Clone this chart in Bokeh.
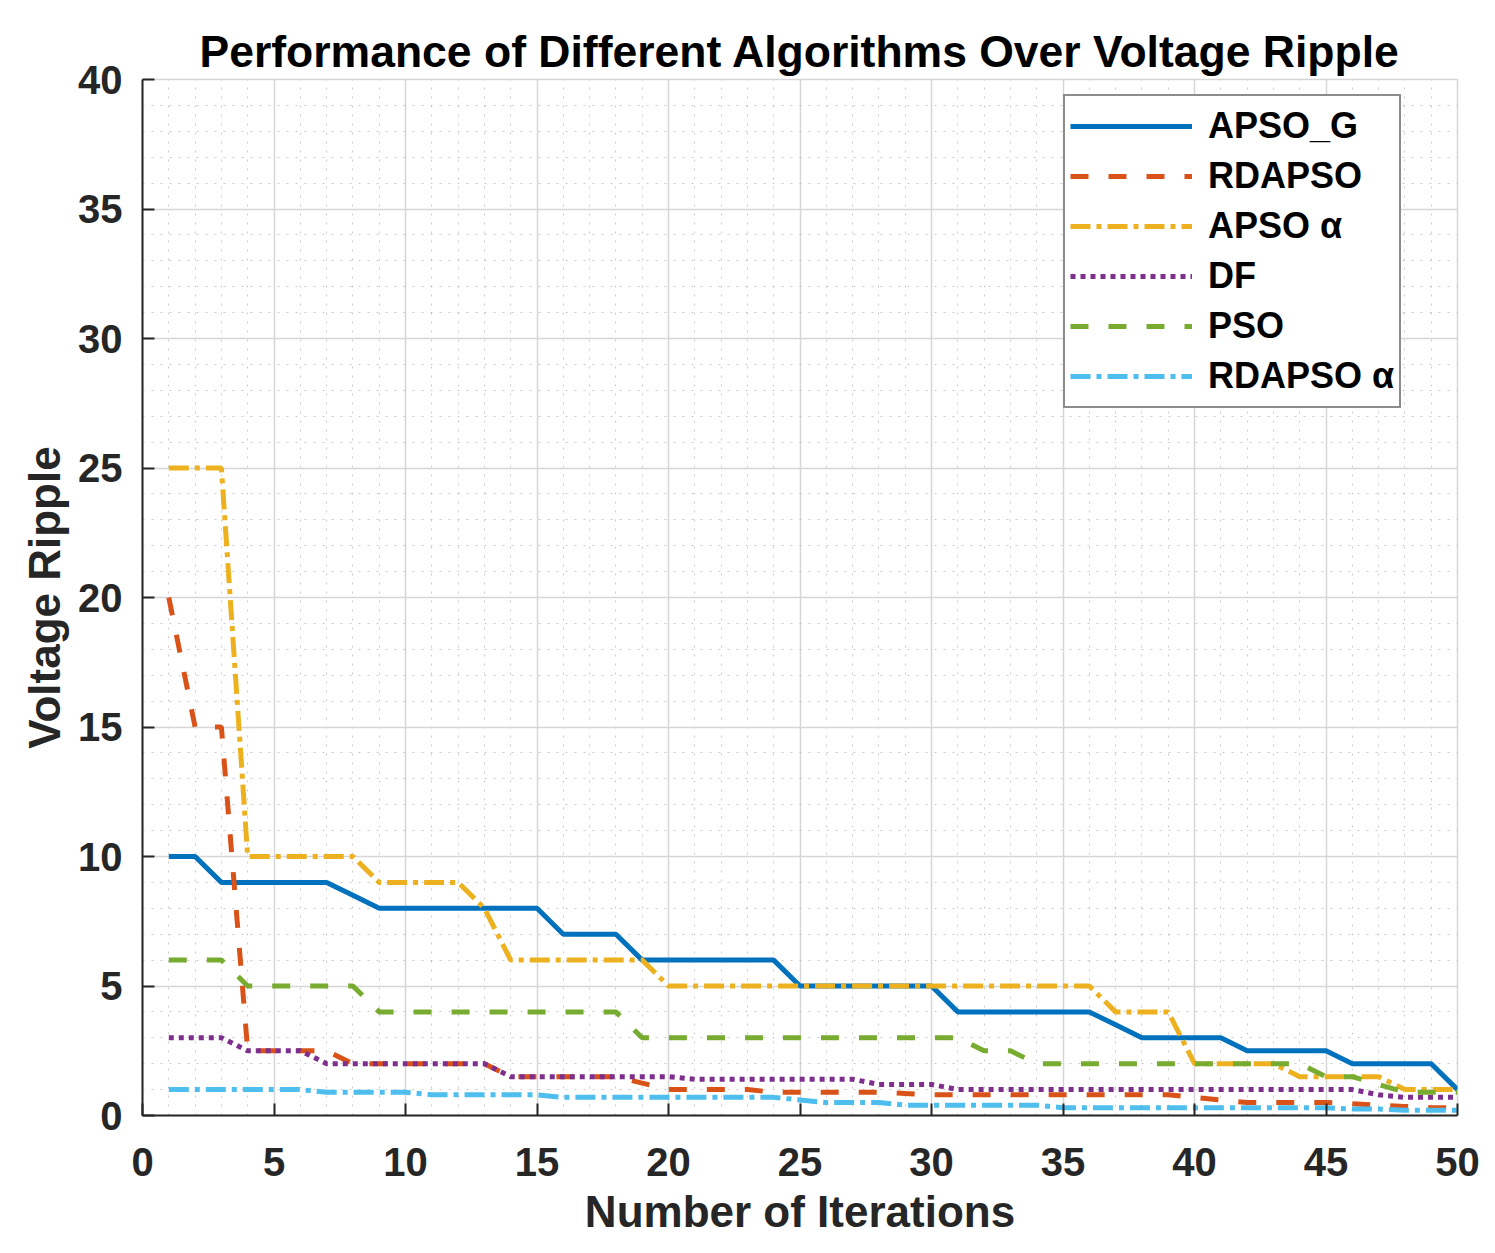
from bokeh.plotting import figure
from bokeh.models import Range1d, SingleIntervalTicker, Legend, LegendItem
from bokeh.embed import file_html
from bokeh.resources import INLINE

# iterations 1..50
iterations = list(range(1, 51))

apso_g = [10, 10, 9, 9, 9, 9, 9, 8.5, 8, 8,
          8, 8, 8, 8, 8, 7, 7, 7, 6, 6,
          6, 6, 6, 6, 5, 5, 5, 5, 5, 5,
          4, 4, 4, 4, 4, 4, 3.5, 3, 3, 3,
          3, 2.5, 2.5, 2.5, 2.5, 2, 2, 2, 2, 1]

rdapso = [20, 15, 15, 2.5, 2.5, 2.5, 2.5, 2, 2, 2,
          2, 2, 2, 1.5, 1.5, 1.5, 1.5, 1.5, 1.25, 1.0,
          1, 1, 1, 0.9, 0.9, 0.9, 0.9, 0.9, 0.85, 0.8,
          0.8, 0.8, 0.8, 0.8, 0.8, 0.8, 0.8, 0.8, 0.8, 0.7,
          0.6, 0.5, 0.5, 0.5, 0.5, 0.45, 0.4, 0.35, 0.3, 0.3]

apso_alpha = [25, 25, 25, 10, 10, 10, 10, 10, 9, 9,
              9, 9, 8, 6, 6, 6, 6, 6, 6, 5,
              5, 5, 5, 5, 5, 5, 5, 5, 5, 5,
              5, 5, 5, 5, 5, 5, 4, 4, 4, 2,
              2, 2, 2, 1.5, 1.5, 1.5, 1.5, 1.0, 1.0, 1.0]

df = [3, 3, 3, 2.5, 2.5, 2.5, 2, 2, 2, 2,
      2, 2, 2, 1.5, 1.5, 1.5, 1.5, 1.5, 1.5, 1.5,
      1.4, 1.4, 1.4, 1.4, 1.4, 1.4, 1.4, 1.2, 1.2, 1.2,
      1, 1, 1, 1, 1, 1, 1, 1, 1, 1,
      1, 1, 1, 1, 1, 1, 0.8, 0.7, 0.7, 0.7]

pso = [6, 6, 6, 5, 5, 5, 5, 5, 4, 4,
       4, 4, 4, 4, 4, 4, 4, 4, 3, 3,
       3, 3, 3, 3, 3, 3, 3, 3, 3, 3,
       3, 2.5, 2.5, 2, 2, 2, 2, 2, 2, 2,
       2, 2, 2, 2, 1.5, 1.5, 1.2, 0.9, 0.9, 0.9]

rdapso_alpha = [1, 1, 1, 1, 1, 1, 0.9, 0.9, 0.9, 0.9,
                0.8, 0.8, 0.8, 0.8, 0.8, 0.7, 0.7, 0.7, 0.7, 0.7,
                0.7, 0.7, 0.7, 0.7, 0.6, 0.5, 0.5, 0.5, 0.4, 0.4,
                0.4, 0.4, 0.4, 0.4, 0.3, 0.3, 0.3, 0.3, 0.3, 0.3,
                0.3, 0.3, 0.3, 0.3, 0.3, 0.25, 0.25, 0.2, 0.2, 0.2]

series = [apso_g, rdapso, apso_alpha, df, pso, rdapso_alpha]
labels = ["APSO_G", "RDAPSO", "APSO \u03b1", "DF", "PSO", "RDAPSO \u03b1"]
colors = ["#0072BD", "#D95319", "#EDB120", "#7E2F8E", "#77AC30", "#4DBEEE"]
dashes = ["solid", "18 20", "20 6 5 6", "5 5", "18 20", "20 6 5 6"]

FONT = "Liberation Sans"

p = figure(width=1487, height=1245,
           x_range=Range1d(0, 50), y_range=Range1d(0, 40),
           title="Performance of Different Algorithms Over Voltage Ripple",
           output_backend="svg", toolbar_location=None,
           min_border_left=142, min_border_right=30,
           min_border_top=79, min_border_bottom=130)

p.title.align = "center"
p.title.text_font = FONT
p.title.text_font_size = "44.5px"
p.title.text_font_style = "bold"
p.title.text_color = "#000000"
p.title.standoff = 8

xt = SingleIntervalTicker(interval=5, num_minor_ticks=5)
yt = SingleIntervalTicker(interval=5, num_minor_ticks=5)
p.xaxis.ticker = xt
p.yaxis.ticker = yt
p.xgrid.ticker = xt
p.ygrid.ticker = yt

p.xaxis.axis_label = "Number of Iterations"
p.yaxis.axis_label = "Voltage Ripple"
for ax in (p.xaxis, p.yaxis):
    ax.axis_label_text_font = FONT
    ax.axis_label_text_font_size = "44px"
    ax.axis_label_text_font_style = "bold"
    ax.axis_label_text_color = "#262626"
    ax.major_label_text_font = FONT
    ax.major_label_text_font_size = "40px"
    ax.major_label_text_font_style = "bold"
    ax.major_label_text_color = "#262626"
    ax.axis_line_color = "#262626"
    ax.axis_line_width = 2
    ax.major_tick_line_color = "#262626"
    ax.major_tick_line_width = 2
    ax.major_tick_in = 12
    ax.major_tick_out = 0
    ax.minor_tick_line_color = None
p.xaxis.major_label_standoff = 28
p.yaxis.major_label_standoff = 16
p.xaxis.axis_label_standoff = 8
p.yaxis.axis_label_standoff = 6

for g in (p.xgrid, p.ygrid):
    g.grid_line_color = "#d6d6d6"
    g.grid_line_width = 1.5
    g.minor_grid_line_color = "#a8a8a8"
    g.minor_grid_line_alpha = 0.6
    g.minor_grid_line_dash = "2 7"
    g.minor_grid_line_width = 1

p.outline_line_color = "#d6d6d6"
p.outline_line_width = 1.5

items = []
for ys, lab, col, dash in zip(series, labels, colors, dashes):
    r = p.line(iterations, ys, line_color=col, line_width=5, line_dash=dash)
    items.append(LegendItem(label=lab, renderers=[r]))

legend = Legend(items=items, location=(921, 707))
legend.label_text_font = FONT
legend.label_text_font_size = "36px"
legend.label_text_font_style = "bold"
legend.label_text_color = "#000000"
legend.glyph_width = 122
legend.glyph_height = 30
legend.label_height = 50
legend.label_standoff = 16
legend.spacing = 0
legend.padding = 5
legend.margin = 0
legend.border_line_color = "#1a1a1a"
legend.border_line_width = 2
legend.background_fill_color = "white"
legend.background_fill_alpha = 1
p.add_layout(legend)

open("out.html", "w").write(file_html(p, INLINE))
